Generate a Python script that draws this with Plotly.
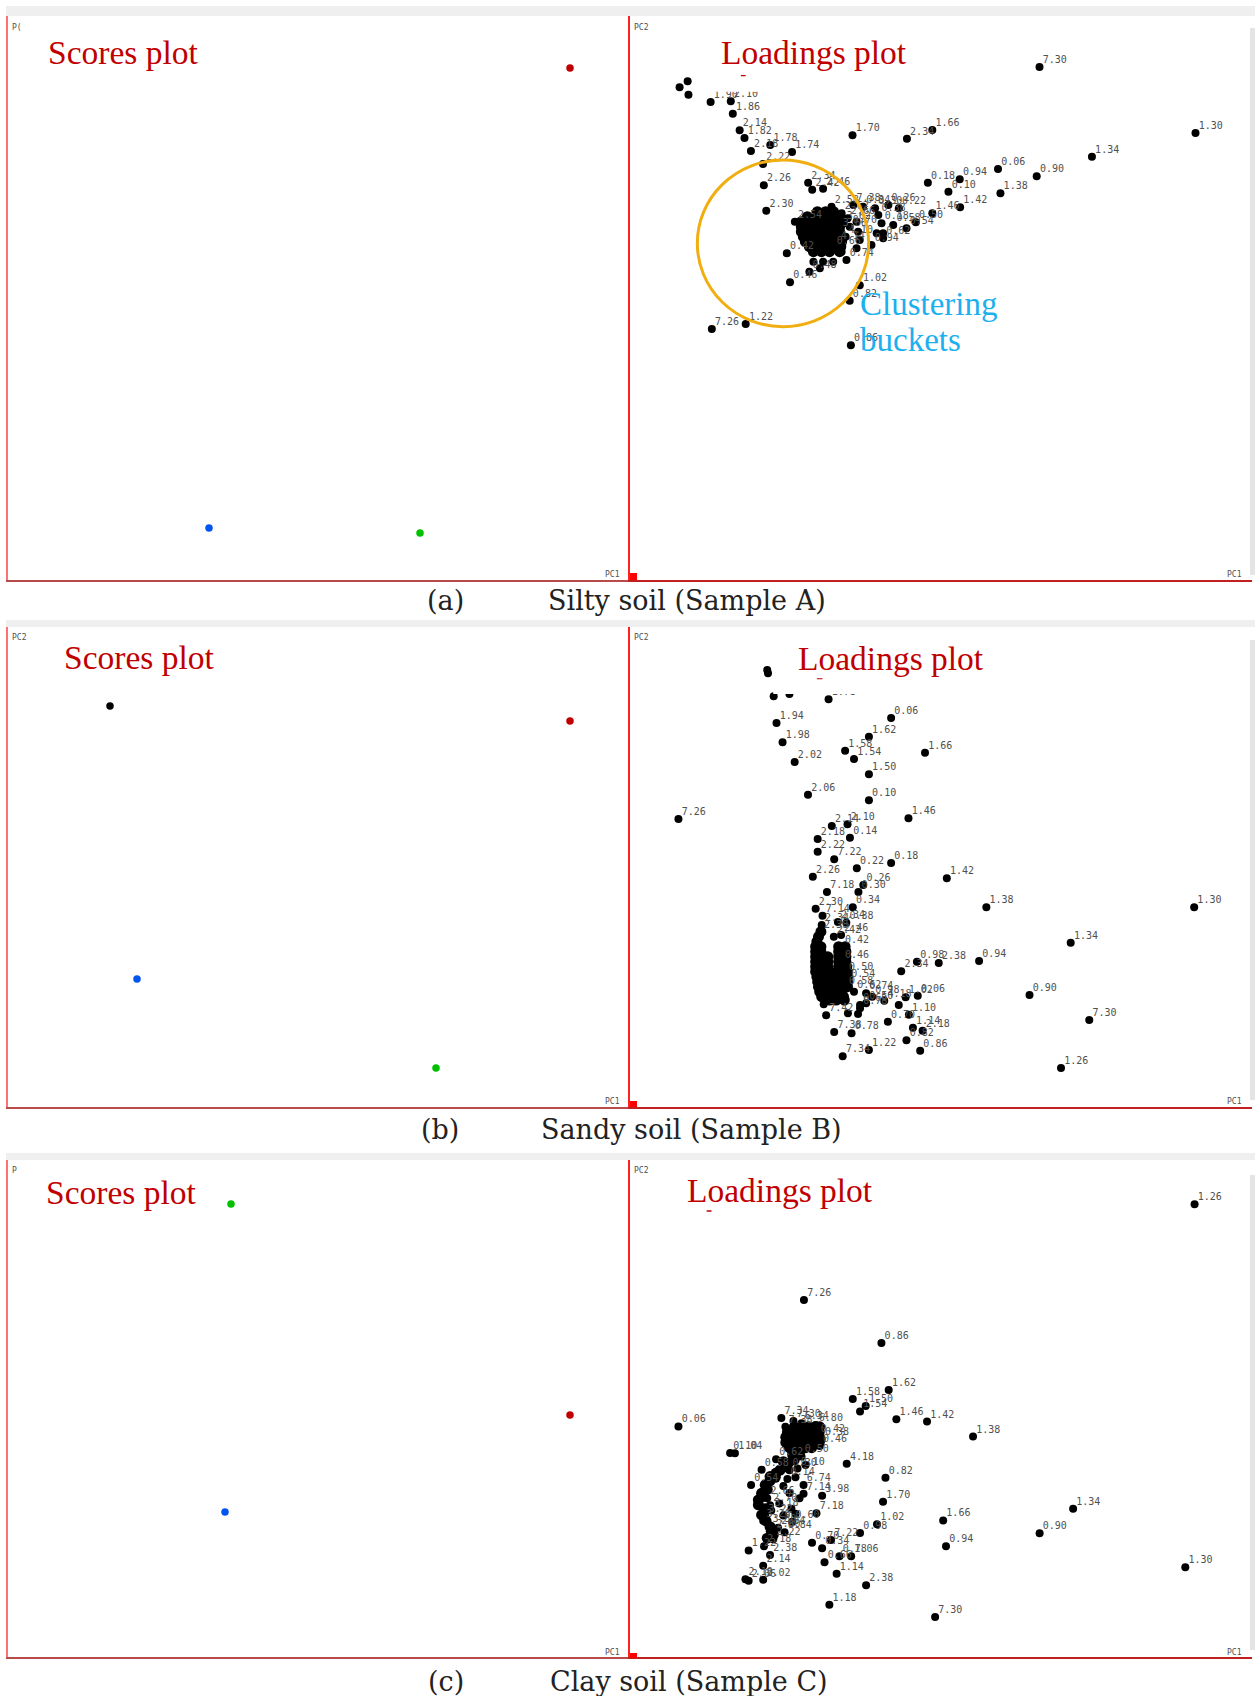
import plotly.graph_objects as go

W, H = 1258, 1696

a_score_pc1 = [570, 209, 420]
a_score_pc2 = [68, 528, 533]
a_score_col = ["#c00000", "#0055ee", "#00c000"]
b_score_pc1 = [110, 570, 137, 436]
b_score_pc2 = [706, 721, 979, 1068]
b_score_col = ["#000000", "#c00000", "#0055ee", "#00c000"]
c_score_pc1 = [231, 570, 225]
c_score_pc2 = [1204, 1415, 1512]
c_score_col = ["#00c000", "#c00000", "#0055ee"]

# ---------- Loadings, sample A
a_pc1 = [1021,1408,1151,1014,918,823,744,795,924,824,755,557,692,755,260,255,205,277,289,353,305,407,335,337,343,447,457,484,
         559,583,613,621,646,672,714,691,633,575,550,553,208,292,402,394,148,128,150,
         414,460,450,476,484,509,542,567,604,571,567,629,658,617,633,530,575,
         505,530,535,525,540,520,510,545,550]
a_pc2 = [171,369,440,499,477,508,518,545,550,592,610,376,386,360,311,274,276,361,384,405,423,426,462,526,602,518,539,536,
         585,590,595,615,585,595,637,655,685,826,872,1006,957,942,817,730,214,232,254,
         635,755,785,775,755,755,750,715,705,665,635,640,645,670,670,725,690,
         590,610,640,660,680,700,715,625,650]
a_lab = ["7.30","1.30","1.34","0.90","0.06","0.94","0.18","0.10","1.38","1.42","1.46","1.70","2.34","1.66","1.86","2.10","1.90","2.14","1.82","1.78","2.18","1.74","2.22","2.26","2.30","2.34","2.42","2.46",
         "7.38","0.34","0.30","0.38","0.26","0.22","0.50","0.54","0.62","1.02","0.82","0.86","7.26","1.22","0.46","0.42","","","",
         "2.54","","0.48","","","","0.74","","0.94","","","0.18","0.58","","","","",
         "2.58","2.62","3.62","3.66","4.10","4.14","0.66","2.66","0.70"]
a_blob_pc1 = [470,490,510, 445,465,485,505,525, 430,450,470,490,510,525,
              430,450,470,490,510,525, 430,450,470,490,510,525, 435,455,475,495,515,530,
              440,460,480,500,520,530, 450,470,490,510,528, 460,480,500,525]
a_blob_pc2 = [605,605,605, 620,620,620,620,620, 635,635,635,635,635,635,
              650,650,650,650,650,650, 665,665,665,665,665,665, 680,680,680,680,680,680,
              695,695,695,695,695,695, 710,710,710,710,710, 725,725,725,725]

# ---------- Loadings, sample B
b_pc1 = [345,347,361,400,497,368,383,413,652,597,538,560,736,597,446,597,125,695,505,544,470,550,470,511,567,652,458,790,583,493,571,888,1403,465,557,482,520,541,
         1097,530,530,716,770,870,677,540,545,995,718,688,635,696,671,644,706,730,690,1143,511,554,532,597,724,1073,491,545,570,485,575,
         480,478,510,528,540,560,590,605,575,590]
b_pc2 = [150,160,229,222,238,309,367,426,294,350,392,417,398,463,524,541,597,595,618,613,657,653,695,718,745,729,770,775,795,816,816,862,862,866,862,887,906,908,
         968,980,1026,1025,1029,1023,1054,1062,1083,1125,1127,1132,1142,1184,1155,1205,1223,1232,1261,1200,1236,1240,1309,1290,1292,1344,1186,1180,1182,1153,1155,
         915,935,950,945,1105,1115,1120,1130,1165,1150]
b_lab = ["","","","","1.78","1.94","1.98","2.02","0.06","1.62","1.58","1.54","1.66","1.50","2.06","0.10","7.26","1.46","2.14","2.10","2.18","0.14","2.22","7.22","0.22","0.18","2.26","1.42","0.26","7.18","0.30","1.38","1.30","2.30","0.34","7.14","2.34","0.38",
         "1.34","0.42","0.46","0.98","2.38","0.94","2.34","0.50","0.54","0.90","0.06","1.02","4.18","1.10","","0.70","1.14","2.18","0.82","7.30","7.38","0.78","7.34","1.22","0.86","1.26","7.42","","","","0.66",
         "2.34","2.38","2.42","2.46","0.58","0.62","0.74","0.98","0.78","0.50"]
b_blob_pc1 = [478,472,468, 465,478,522,538, 465,478,522,540, 465,478,495,522,540, 465,478,495,522,540,
              465,478,495,522,542, 465,480,500,522,544, 468,482,500,522,544, 470,485,505,525,544,
              472,488,508,528,544, 475,492,510,530, 480,498,516,534, 500,516,536]
b_blob_pc2 = [935,950,965, 980,980,980,980, 995,995,995,995, 1010,1010,1010,1010,1010, 1025,1025,1025,1025,1025,
              1040,1040,1040,1040,1040, 1055,1055,1055,1055,1055, 1070,1070,1070,1070,1070, 1085,1085,1085,1085,1085,
              1100,1100,1100,1100,1100, 1115,1115,1115,1115, 1130,1130,1130,1130, 1140,1140,1140]

# ---------- Loadings, sample C
c_pc1 = [1404,436,628,646,557,589,575,665,741,855,125,253,265,542,638,632,1103,781,1020,617,575,788,1381,467,435,481,435,503,456,481,553,524,487,517,590,499,761,
         299,337,352,335,335,299,291,305,331,367,380,410,
         400,420,395,415,440,385,400,425,375,405,385,415,360,388,407,
         390,430,465,470,480,475,345,352,355,340,335,350,360,372,430]
c_pc2 = [156,431,554,689,715,735,751,773,780,823,794,870,871,901,941,1010,1030,1064,1101,1075,1100,1138,1198,1043,987,993,962,1120,1128,1144,1167,1167,1184,1217,1250,1306,1341,
         1150,1138,1163,1194,1234,1237,1233,962,918,888,770,778,
         920,915,945,940,905,965,985,1000,1015,1030,1050,1045,1118,1098,1068,
         795,785,790,820,830,850,1000,1020,1035,1050,1065,1080,1095,1085,880]
c_lab = ["1.26","7.26","0.86","1.62","1.58","1.50","1.54","1.46","1.42","1.38","0.06","0.10","1.04","4.18","0.82","1.70","1.34","1.66","0.90","1.02","0.98","0.94","1.30","7.18","7.14","3.98","6.74","7.22","0.70","0.34","1.06","0.78","0.66","1.14","2.38","1.18","7.30",
         "1.22","2.18","2.38","2.14","2.02","2.06","2.10","0.54","0.58","0.62","7.34","7.30",
         "0.30","0.10","0.14","","","","","","","","","","2.22","0.84","0.60",
         "7.38","6.34","6.80","0.42","0.38","0.46","2.66","2.70","3.18","3.22","3.26","3.30","2.80","2.84","0.50"]
c_blob_pc1 = [412,430,448,465,475, 395,412,430,448,465,474, 391,410,428,446,464,474, 391,410,428,446,464,474, 400,420,440,455,
              418,397,412,377,392,352,367,340,352,331,345,323,335,323,331,342,352,360,345,355,
              408,425,385,365,340]
c_blob_pc2 = [795,795,795,795,795, 810,810,810,810,810,810, 825,825,825,825,825,825, 840,840,840,840,840,840, 855,855,855,855,
              871,900,890,919,910,938,928,962,950,986,975,1005,995,1019,1048,1065,1082,1105,1115,1095,
              875,868,895,940,1030]

# ---------- Text
scores_title = "Scores plot"
loadings_title = "Loadings plot"
caption_tags = ["(a)", "(b)", "(c)"]
caption_names = ["Silty soil (Sample A)", "Sandy soil (Sample B)", "Clay soil (Sample C)"]

# ---------- Geometry in page pixels
ROWS = [(16, 579.5), (627, 1106.5), (1160, 1657)]
LEFT = (7.5, 629.5)
RIGHT = (629.5, 1252)
# reading scale of the loadings arrays for each row: origin and scale
ZOOM = [(628, 10, 2.481, 3.0), (628, 620, 2.478, 3.0), (628, 1150, 2.478, 2.872)]


def px(x):
    return x / W


def py(y):
    return 1 - y / H


fig = go.Figure()
layout = dict(
    width=W, height=H, margin=dict(l=0, r=0, t=0, b=0), autosize=False,
    paper_bgcolor="white", plot_bgcolor="white", showlegend=False,
)
shapes, annotations = [], []


def axis(dom, rng, color, width):
    return dict(domain=dom, range=rng, showgrid=False, zeroline=False, showticklabels=False,
                ticks="", showline=True, linecolor=color, linewidth=width, fixedrange=True)


axis_n = 0
for r, (top, bot) in enumerate(ROWS):
    axis_n += 1
    a = axis_n
    layout[f"xaxis{a}"] = {**axis([px(LEFT[0]), px(LEFT[1])], [LEFT[0], LEFT[1]], "#b84a4a", 2), "anchor": f"y{a}"}
    layout[f"yaxis{a}"] = {**axis([py(bot), py(top)], [bot, top], "#ff7070", 2), "anchor": f"x{a}"}
    axis_n += 1
    b = axis_n
    ox, oy, fx, fy = ZOOM[r]
    layout[f"xaxis{b}"] = {**axis([px(RIGHT[0]), px(RIGHT[1])], [(RIGHT[0] - ox) * fx, (RIGHT[1] - ox) * fx], "#c02020", 2), "anchor": f"y{b}"}
    layout[f"yaxis{b}"] = {**axis([py(bot), py(top)], [(bot - oy) * fy, (top - oy) * fy], "#ff2020", 2), "anchor": f"x{b}"}

score_sets = [(a_score_pc1, a_score_pc2, a_score_col), (b_score_pc1, b_score_pc2, b_score_col), (c_score_pc1, c_score_pc2, c_score_col)]
load_sets = [(a_pc1, a_pc2, a_lab, a_blob_pc1, a_blob_pc2), (b_pc1, b_pc2, b_lab, b_blob_pc1, b_blob_pc2), (c_pc1, c_pc2, c_lab, c_blob_pc1, c_blob_pc2)]

for r in range(3):
    sa, la = 2 * r + 1, 2 * r + 2
    sx, sy, sc = score_sets[r]
    fig.add_trace(go.Scatter(x=sx, y=sy, mode="markers", marker=dict(size=7.5, color=sc),
                             xaxis=f"x{sa}", yaxis=f"y{sa}"))
    lx, ly, lt, bx, by = load_sets[r]
    fig.add_trace(go.Scatter(x=bx, y=by, mode="markers", marker=dict(size=11, color="black"),
                             xaxis=f"x{la}", yaxis=f"y{la}"))
    fig.add_trace(go.Scatter(x=lx, y=ly, mode="markers", marker=dict(size=8, color="black"),
                             xaxis=f"x{la}", yaxis=f"y{la}"))
    # each label sits on the upper line of a two-line block, which lifts it beside the dot
    shown = [t + "<br>&nbsp;" if t else "" for t in lt]
    fig.add_trace(go.Scatter(x=lx, y=ly, mode="markers+text", text=shown, textposition="middle right",
                             textfont=dict(family="DejaVu Sans Mono", size=10, color="#505050"),
                             marker=dict(size=3.5, color="black"), xaxis=f"x{la}", yaxis=f"y{la}"))


def rect(x0, y0, x1, y1, color):
    shapes.append(dict(type="rect", xref="paper", yref="paper", x0=px(x0), x1=px(x1), y0=py(y1), y1=py(y0),
                       fillcolor=color, line_width=0, layer="above"))


def note(text, x, y, size, color, family="Liberation Serif", anchor="left"):
    annotations.append(dict(text=text, x=px(x), y=py(y), xref="paper", yref="paper", xanchor=anchor, yanchor="middle",
                            showarrow=False, font=dict(family=family, size=size, color=color)))


# grey bands above each row, scrollbars, red corner squares
for y0, y1 in [(6, 16), (620, 627), (1153, 1160)]:
    rect(6, y0, 1255, y1, "#efefef")
for y0, y1 in [(28, 575), (640, 1100), (1175, 1650)]:
    rect(1250, y0, 1255, y1, "#e4e4e4")
for y0, y1 in [(573, 580), (1101, 1107), (1653, 1658)]:
    rect(630, y0, 637, y1, "#ff0000")

# text boxes that hide part of the dots' labels, with the red remnant under them
mask_axes = [(2, 160, 700, 30, 245, 280, 292, 195, 199), (4, 360, 880, 40, 222, 468, 482, 175, 178)]
for n, x0, x1, y0, y1, rx0, rx1, ry0, ry1 in mask_axes:
    shapes.append(dict(type="rect", xref=f"x{n}", yref=f"y{n}", x0=x0, x1=x1, y0=y0, y1=y1,
                       fillcolor="white", line_width=0, layer="above"))
    shapes.append(dict(type="rect", xref=f"x{n}", yref=f"y{n}", x0=rx0, x1=rx1, y0=ry0, y1=ry1,
                       fillcolor="#c00000", line_width=0, layer="above"))
shapes.append(dict(type="rect", xref="x6", yref="y6", x0=195, x1=207, y0=173, y1=177,
                   fillcolor="#c00000", line_width=0, layer="above"))

# clustering circle
shapes.append(dict(type="circle", xref="x2", yref="y2", x0=172, x1=597, y0=450, y1=950,
                   line=dict(color="#f0ae10", width=3), fillcolor="rgba(0,0,0,0)", layer="above"))

# titles
for x, y in [(45.5, 52), (61.5, 657), (43.5, 1192)]:
    note(scores_title, x, y, 33.5, "#c00000")
for x, y in [(719, 52), (796, 658), (685, 1190)]:
    note(loadings_title, x, y, 33.5, "#c00000")
note("Clustering", 858, 304, 33, "#1cb0ee")
note("buckets", 858, 340, 33, "#1cb0ee")

# captions
for tag, name, tx, nx, y in zip(caption_tags, caption_names, [445, 440, 446], [546, 539, 548], [600, 1129, 1681]):
    note(tag, tx, y, 27, "#222222", "DejaVu Serif", "center")
    note(name, nx, y, 27, "#222222", "DejaVu Serif")

# PC labels
for y in [574, 1101, 1652]:
    note("PC1", 622, y, 8, "#505050", "DejaVu Sans Mono", "right")
    note("PC1", 1244, y, 8, "#505050", "DejaVu Sans Mono", "right")
for t, y in [("P(", 28), ("PC2", 637), ("P", 1170)]:
    note(t, 10, y, 8, "#505050", "DejaVu Sans Mono")
for y in [28, 637, 1170]:
    note("PC2", 632, y, 8, "#505050", "DejaVu Sans Mono")

layout["shapes"] = shapes
layout["annotations"] = annotations
fig.update_layout(**layout)
fig.write_html("out.html", config={"displayModeBar": False}, post_script="document.body.style.margin='0';")
